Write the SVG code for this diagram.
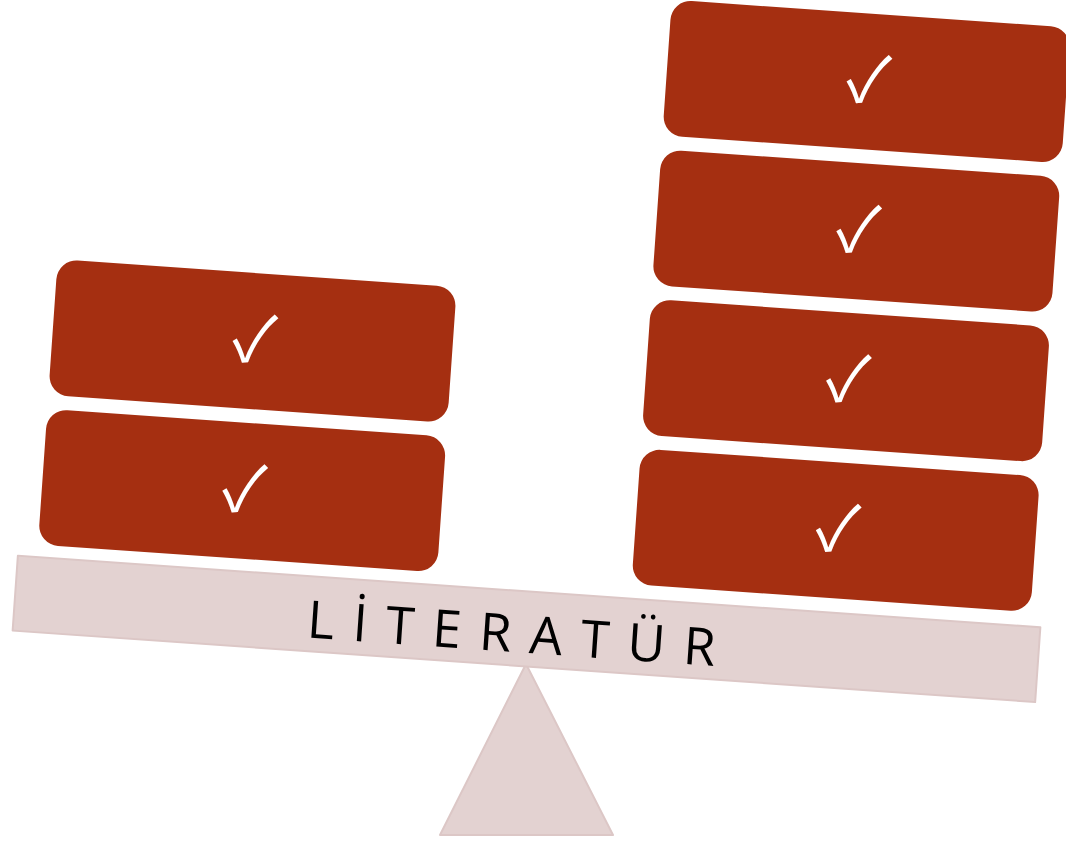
<svg xmlns="http://www.w3.org/2000/svg" width="1066" height="842" viewBox="0 0 1066 842">
  <style>
    .block { fill: #A52F11; }
    .check { fill: #FFFFFF; font-family: "Noto Sans CJK JP", "DejaVu Sans", sans-serif; font-size: 64px; text-anchor: middle; }
    .wood { fill: #E3D2D1; stroke: #DCC7C6; stroke-width: 2; stroke-linejoin: round; }
    .label { fill: #000000; font-family: "Open Sans", "DejaVu Sans", sans-serif; font-size: 52px; }
  </style>
  <rect width="1066" height="842" fill="#FFFFFF"/>
  <g id="fulcrum">
    <polygon class="wood" points="526,664 613,835 440,835"/>
  </g>
  <g id="plank" transform="translate(526.5,628.9) rotate(4)">
    <rect class="wood" x="-512.5" y="-37.5" width="1025" height="75"/>
    <text class="label" x="-219" y="24" textLength="409" lengthAdjust="spacing">LİTERATÜR</text>
  </g>
  <g id="left-block-1" transform="translate(252.5,341) rotate(4)">
    <rect class="block" x="-200" y="-68" width="400" height="136" rx="20"/>
    <text class="check" x="2" y="21">✓</text>
  </g>
  <g id="left-block-2" transform="translate(242.2,490.6) rotate(4)">
    <rect class="block" x="-200" y="-68" width="400" height="136" rx="20"/>
    <text class="check" x="2" y="21">✓</text>
  </g>
  <g id="right-block-1" transform="translate(866.6,81.5) rotate(4)">
    <rect class="block" x="-200" y="-68" width="400" height="136" rx="20"/>
    <text class="check" x="2" y="21">✓</text>
  </g>
  <g id="right-block-2" transform="translate(856.3,231.1) rotate(4)">
    <rect class="block" x="-200" y="-68" width="400" height="136" rx="20"/>
    <text class="check" x="2" y="21">✓</text>
  </g>
  <g id="right-block-3" transform="translate(846,380.7) rotate(4)">
    <rect class="block" x="-200" y="-68" width="400" height="136" rx="20"/>
    <text class="check" x="2" y="21">✓</text>
  </g>
  <g id="right-block-4" transform="translate(835.7,530.3) rotate(4)">
    <rect class="block" x="-200" y="-68" width="400" height="136" rx="20"/>
    <text class="check" x="2" y="21">✓</text>
  </g>
</svg>
